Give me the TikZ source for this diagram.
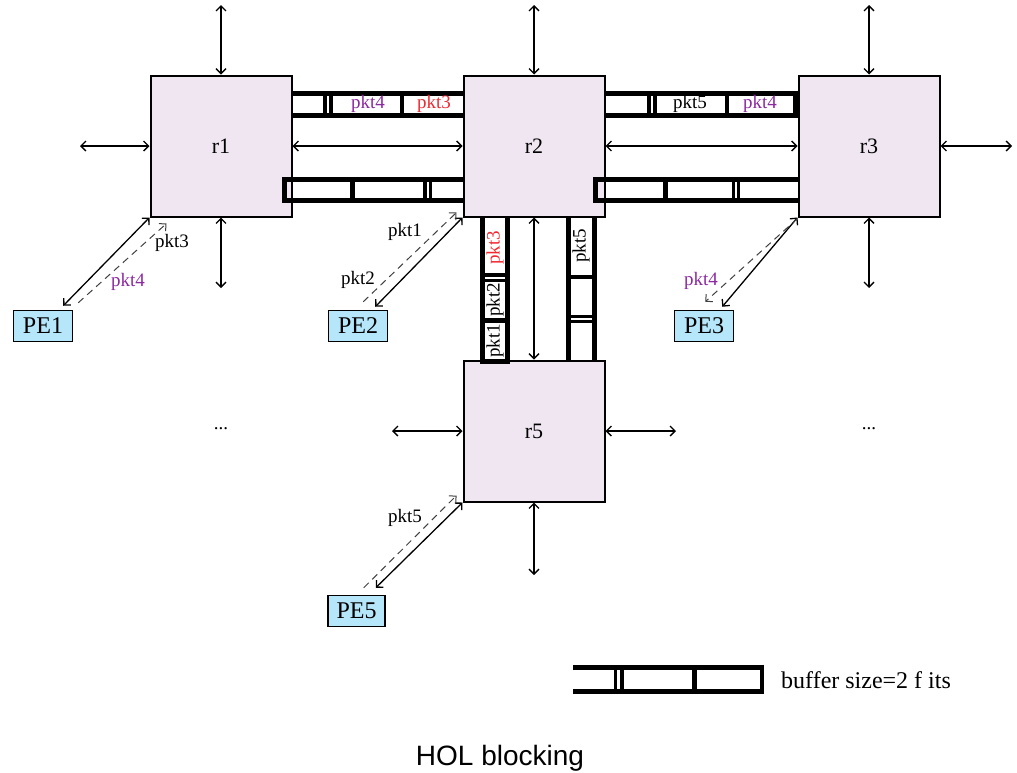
\documentclass[tikz,border=0pt]{standalone}
\usepackage{fontspec}
\setmainfont{Liberation Serif}
\newfontfamily\capfont{Liberation Sans}
\usetikzlibrary{arrows.meta,calc}
\definecolor{rfill}{RGB}{240,230,242}
\definecolor{pefill}{RGB}{182,230,250}
\definecolor{pktred}{RGB}{240,40,50}
\definecolor{pktpur}{RGB}{140,40,160}
\begin{document}
\begin{tikzpicture}[x=1pt,y=-1pt,
  router/.style={draw, line width=2pt, fill=rfill, minimum width=141pt, minimum height=141pt, inner sep=0pt, font=\fontsize{22}{26}\selectfont},
  pe/.style={draw, line width=1.5pt, fill=pefill, minimum width=59pt, minimum height=31pt, inner sep=0pt, font=\fontsize{24}{26}\selectfont},
  dbl/.style={{Straight Barb[length=5pt,width=10pt]}-{Straight Barb[length=5pt,width=10pt]}, line width=1.3pt},
  dsh/.style={-{Straight Barb[length=5pt,width=10pt]}, dash pattern=on 7pt off 5pt, line width=1pt, draw=black!75},
  lbl/.style={font=\fontsize{19}{22}\selectfont, inner sep=0pt},
  bufline/.style={line width=5pt},
  sepline/.style={line width=4.5pt},
  dsepline/.style={line width=3.2pt}]
\useasboundingbox (0,0) rectangle (1017,772);

% routers
\node[router] (r1) at (221,146) {r1};
\node[router] (r2) at (534,146) {r2};
\node[router] (r3) at (869,146) {r3};
\node[router] (r5) at (534,431) {r5};

% PEs
\node[pe] (PE1) at (43,326) {PE1};
\node[pe] (PE2) at (358,326) {PE2};
\node[pe] (PE3) at (704,326) {PE3};
\node[pe, minimum width=57pt] (PE5) at (356.5,611) {PE5};

% external links
\coordinate (r1n) at (221,5);
\coordinate (r1s) at (221,288);
\coordinate (r1w) at (80,146);
\coordinate (r2n) at (534,5);
\coordinate (r3n) at (869,5);
\coordinate (r3s) at (869,288);
\coordinate (r3e) at (1012,146);
\coordinate (r5w) at (392,431);
\coordinate (r5e) at (676,431);
\coordinate (r5s) at (534,575);
\draw[dbl] (r1n) -- (r1.north);
\draw[dbl] (r1.south) -- (r1s);
\draw[dbl] (r1w) -- (r1.west);
\draw[dbl] (r2n) -- (r2.north);
\draw[dbl] (r3n) -- (r3.north);
\draw[dbl] (r3.south) -- (r3s);
\draw[dbl] (r3.east) -- (r3e);
\draw[dbl] (r5w) -- (r5.west);
\draw[dbl] (r5.east) -- (r5e);
\draw[dbl] (r5.south) -- (r5s);

% router-router links
\draw[dbl] (r1.east) -- (r2.west);
\draw[dbl] (r2.east) -- (r3.west);
\draw[dbl] (r2.south) -- (r5.north);

% buffers r1-r2
\draw[bufline] (292,93) -- (463,93) (292,115) -- (463,115);
\draw[dsepline] (325,93) -- (325,115) (331,93) -- (331,115);
\draw[sepline] (402,93) -- (402,115);
\draw[bufline] (282,179.5) -- (463,179.5) (282,200.5) -- (463,200.5);
\draw[sepline] (284.5,177) -- (284.5,203);
\draw[sepline] (352.5,179.5) -- (352.5,200.5);
\draw[dsepline] (425,179.5) -- (425,200.5) (430.5,179.5) -- (430.5,200.5);

% buffers r2-r3
\draw[bufline] (605,93) -- (798,93) (605,115) -- (798,115);
\draw[dsepline] (649,93) -- (649,115) (655,93) -- (655,115);
\draw[sepline] (727,93) -- (727,115);
\draw[sepline] (795.5,90.5) -- (795.5,117.5);
\draw[bufline] (593,179.5) -- (798,179.5) (593,200.5) -- (798,200.5);
\draw[sepline] (595.5,177) -- (595.5,203);
\draw[sepline] (665.5,179.5) -- (665.5,200.5);
\draw[dsepline] (733.5,179.5) -- (733.5,200.5) (738.5,179.5) -- (738.5,200.5);

% buffers r2-r5
\draw[bufline] (482.5,217) -- (482.5,363) (507.5,217) -- (507.5,363);
\draw[dsepline] (482.5,275) -- (507.5,275) (482.5,280.5) -- (507.5,280.5);
\draw[sepline] (482.5,320.5) -- (507.5,320.5);
\draw[sepline] (480,361.5) -- (510,361.5);
\draw[bufline] (568,217) -- (568,362) (594,217) -- (594,362);
\draw[sepline] (568,277) -- (594,277);
\draw[dsepline] (568,316.5) -- (594,316.5) (568,321.5) -- (594,321.5);

% buffer contents
\node[lbl, text=pktpur] (b12a) at (368,104) {pkt4};
\node[lbl, text=pktred] (b12b) at (434,104) {pkt3};
\node[lbl] (b23a) at (690,104) {pkt5};
\node[lbl, text=pktpur] (b23b) at (760,104) {pkt4};
\node[lbl, text=pktred, rotate=90] (b25a) at (495,248) {pkt3};
\node[lbl, rotate=90] (b25b) at (495,300) {pkt2};
\node[lbl, rotate=90] (b25c) at (495,341) {pkt1};
\node[lbl, rotate=90] (b25d) at (581,246) {pkt5};

% PE links
\draw[dbl] (r1.south west) -- ([xshift=-10pt,yshift=4pt]PE1.north east);
\draw[dsh] ([xshift=5pt,yshift=7pt]PE1.north east) -- ([xshift=17pt,yshift=-6pt]r1.south west);
\draw[dbl] (r2.south west) -- ([xshift=-13pt,yshift=3pt]PE2.north east);
\draw[dsh] ([xshift=-25pt,yshift=8pt]PE2.north east) -- ([xshift=-6pt,yshift=5pt]r2.south west);
\draw[dbl] (r3.south west) -- ([xshift=-12pt,yshift=3pt]PE3.north east);
\draw[dsh] ([xshift=0pt,yshift=-1pt]r3.south west) -- ([xshift=-29pt,yshift=8pt]PE3.north east);
\draw[dbl] (r5.south west) -- ([xshift=-10pt,yshift=7pt]PE5.north east);
\draw[dsh] ([xshift=-22pt,yshift=7pt]PE5.north east) -- ([xshift=-6pt,yshift=7pt]r5.south west);

% link labels
\node[lbl] (l1) at (172,243) {pkt3};
\node[lbl, text=pktpur] (l2) at (128,282) {pkt4};
\node[lbl] (l3) at (405,232) {pkt1};
\node[lbl] (l4) at (358,280) {pkt2};
\node[lbl, text=pktpur] (l5) at (701,281) {pkt4};
\node[lbl] (l6) at (405,518) {pkt5};

% ellipses
\node[lbl] (d1) at (221,429) {...};
\node[lbl] (d2) at (869,429) {...};

% legend
\draw[bufline] (573,667) -- (763,667) (573,691.5) -- (763,691.5);
\draw[dsepline] (615.5,667) -- (615.5,691.5) (622,667) -- (622,691.5);
\draw[sepline] (694.5,667) -- (694.5,691.5);
\draw[sepline] (762,664.5) -- (762,694);
\node[anchor=west, inner sep=0pt, font=\fontsize{24}{28}\selectfont] (leg) at (781,680) {buffer size=2 f its};

% caption
\node[font=\capfont\fontsize{28}{32}\selectfont, inner sep=0pt] (cap) at (500,758) {HOL blocking};
\end{tikzpicture}
\end{document}
